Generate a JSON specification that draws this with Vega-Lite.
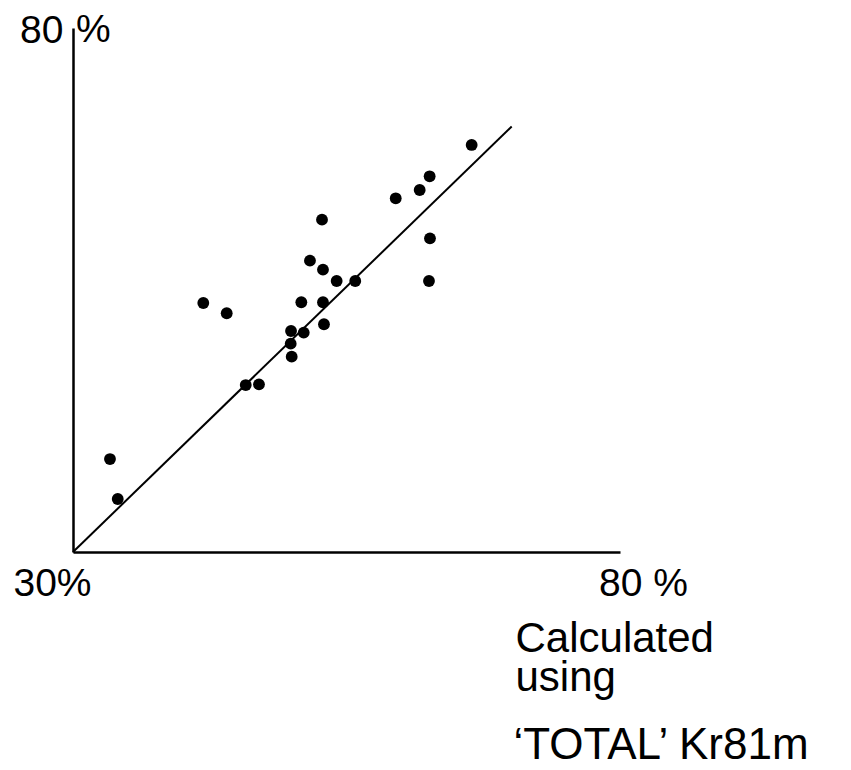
{
  "$schema": "https://vega.github.io/schema/vega-lite/v6.json",
  "width": 547,
  "height": 524,
  "autosize": {"type": "none"},
  "padding": {"left": 73, "top": 28, "right": 231, "bottom": 218},
  "background": "white",
  "config": {"view": {"stroke": null}, "font": "Liberation Sans"},
  "datasets": {
    "points": [
      {"calc": 33.38, "meas": 38.87},
      {"calc": 34.09, "meas": 35.06},
      {"calc": 41.91, "meas": 53.76},
      {"calc": 44.05, "meas": 52.78},
      {"calc": 45.79, "meas": 45.93},
      {"calc": 47.00, "meas": 46.00},
      {"calc": 49.93, "meas": 51.09},
      {"calc": 49.90, "meas": 49.88},
      {"calc": 49.99, "meas": 48.64},
      {"calc": 51.09, "meas": 50.93},
      {"calc": 50.87, "meas": 53.83},
      {"calc": 51.66, "meas": 57.80},
      {"calc": 52.76, "meas": 61.71},
      {"calc": 52.85, "meas": 56.94},
      {"calc": 52.85, "meas": 53.83},
      {"calc": 52.94, "meas": 51.73},
      {"calc": 54.10, "meas": 55.86},
      {"calc": 55.80, "meas": 55.86},
      {"calc": 59.50, "meas": 63.75},
      {"calc": 61.69, "meas": 64.54},
      {"calc": 62.60, "meas": 65.85},
      {"calc": 62.63, "meas": 59.93},
      {"calc": 62.54, "meas": 55.86},
      {"calc": 66.44, "meas": 68.84}
    ],
    "fit": [
      {"calc": 30, "meas": 30},
      {"calc": 70.1, "meas": 70.6}
    ],
    "pct": [
      {"calc": 30, "meas": 80, "t": "%"}
    ]
  },
  "layer": [
    {
      "data": {"name": "fit"},
      "mark": {"type": "line", "color": "black", "strokeWidth": 2},
      "encoding": {
        "x": {
          "field": "calc",
          "type": "quantitative",
          "scale": {"domain": [30, 80], "nice": false, "zero": false},
          "axis": {
            "values": [30, 80],
            "ticks": false,
            "tickSize": 0,
            "grid": false,
            "domainColor": "black",
            "domainWidth": 2.5,
            "labelExpr": "datum.value == 80 ? '80 %' : '30%'",
            "labelFont": "Liberation Sans",
            "labelFontSize": 39,
            "labelColor": "black",
            "labelPadding": 12,
            "labelFlush": false,
            "labelOverlap": false,
            "labelOffset": {"condition": {"test": "datum.value == 30", "value": -21}, "value": 23},
            "title": ["Calculated", "using"],
            "titleFont": "Liberation Sans",
            "titleFontSize": 42,
            "titleFontWeight": "normal",
            "titleColor": "black",
            "titleLineHeight": 39,
            "titleAlign": "left",
            "titleAnchor": "start",
            "titleBaseline": "alphabetic",
            "titleX": 442,
            "titleY": 99
          }
        },
        "y": {
          "field": "meas",
          "type": "quantitative",
          "scale": {"domain": [30, 80], "nice": false, "zero": false},
          "axis": {
            "values": [80],
            "ticks": false,
            "tickSize": 0,
            "grid": false,
            "domainColor": "black",
            "domainWidth": 2.5,
            "labelFont": "Liberation Sans",
            "labelFontSize": 39,
            "labelColor": "black",
            "labelPadding": 10,
            "labelBaseline": "middle",
            "labelOffset": 2,
            "labelFlush": false,
            "labelOverlap": false,
            "title": "‘TOTAL’ Kr81m",
            "titleFont": "Liberation Sans",
            "titleFontSize": 44,
            "titleFontWeight": "normal",
            "titleColor": "black",
            "titleAngle": 0,
            "titleAlign": "left",
            "titleAnchor": "start",
            "titleBaseline": "alphabetic",
            "titleX": 440,
            "titleY": 730
          }
        }
      }
    },
    {
      "data": {"name": "points"},
      "mark": {"type": "circle", "color": "black", "opacity": 1, "size": 140},
      "encoding": {
        "x": {"field": "calc", "type": "quantitative"},
        "y": {"field": "meas", "type": "quantitative"}
      }
    },
    {
      "data": {"name": "pct"},
      "mark": {"type": "text", "align": "left", "baseline": "middle", "dx": 3, "dy": 2, "fontSize": 39, "font": "Liberation Sans", "color": "black", "clip": false},
      "encoding": {
        "x": {"field": "calc", "type": "quantitative"},
        "y": {"field": "meas", "type": "quantitative"},
        "text": {"field": "t"}
      }
    }
  ]
}
